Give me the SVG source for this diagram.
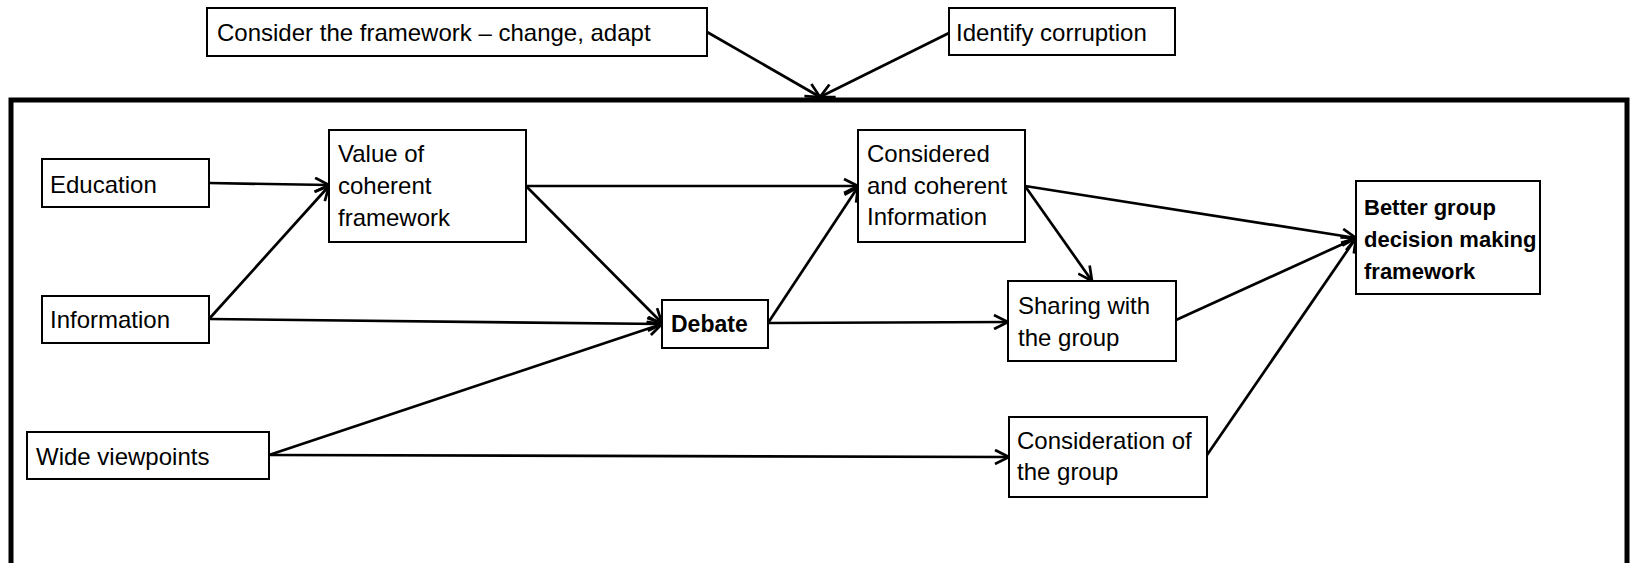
<svg xmlns="http://www.w3.org/2000/svg" width="1631" height="563" viewBox="0 0 1631 563">
<style>
.box{fill:#fff;stroke:#000;stroke-width:2}
.t{font-family:"Liberation Sans",Arial,sans-serif;font-size:24px;fill:#000}
.b{font-weight:bold;font-size:23px}
.bb{font-weight:bold;font-size:22px}
.c{fill:none;stroke:#000;stroke-width:2.7;marker-end:url(#ah)}
.frame{fill:none;stroke:#000;stroke-width:5}
</style>
<defs>
<marker id="ah" viewBox="0 0 16 16" refX="15" refY="8" markerWidth="16" markerHeight="16" markerUnits="userSpaceOnUse" orient="auto">
<path d="M1,1 L15,8 L1,15" fill="none" stroke="#000" stroke-width="2.7"/>
</marker>
</defs>
<rect class="frame" x="11" y="100" width="1616" height="520"/>
<g id="connectors">
<line class="c" x1="707" y1="32" x2="820" y2="97"/>
<line class="c" x1="949" y1="33" x2="820" y2="97"/>
<line class="c" x1="209" y1="183" x2="329" y2="185"/>
<line class="c" x1="209" y1="319" x2="329" y2="186"/>
<line class="c" x1="209" y1="319" x2="662" y2="324"/>
<line class="c" x1="526" y1="186" x2="858" y2="186"/>
<line class="c" x1="526" y1="186" x2="662" y2="323"/>
<line class="c" x1="269" y1="455" x2="662" y2="324"/>
<line class="c" x1="768" y1="323" x2="858" y2="187"/>
<line class="c" x1="768" y1="323" x2="1008" y2="322"/>
<line class="c" x1="1025" y1="186" x2="1356" y2="238"/>
<line class="c" x1="1025" y1="186" x2="1092" y2="281"/>
<line class="c" x1="1176" y1="320" x2="1356" y2="238"/>
<line class="c" x1="269" y1="455" x2="1009" y2="457"/>
<line class="c" x1="1207" y1="455" x2="1356" y2="238"/>
</g>
<g id="consider">
<rect class="box" x="207" y="8" width="500" height="48"/>
<text class="t" x="217" y="41">Consider the framework – change, adapt</text>
</g>
<g id="identify">
<rect class="box" x="949" y="8" width="226" height="47"/>
<text class="t" x="956" y="41">Identify corruption</text>
</g>
<g id="education">
<rect class="box" x="42" y="159" width="167" height="48"/>
<text class="t" x="50" y="193">Education</text>
</g>
<g id="information">
<rect class="box" x="42" y="296" width="167" height="47"/>
<text class="t" x="50" y="328">Information</text>
</g>
<g id="wide">
<rect class="box" x="27" y="432" width="242" height="47"/>
<text class="t" x="36" y="465">Wide viewpoints</text>
</g>
<g id="value">
<rect class="box" x="329" y="130" width="197" height="112"/>
<text class="t" x="338" y="162">Value of</text>
<text class="t" x="338" y="194">coherent</text>
<text class="t" x="338" y="226">framework</text>
</g>
<g id="debate">
<rect class="box" x="662" y="300" width="106" height="48"/>
<text class="t b" x="671" y="332">Debate</text>
</g>
<g id="considered">
<rect class="box" x="858" y="130" width="167" height="112"/>
<text class="t" x="867" y="162">Considered</text>
<text class="t" x="867" y="194">and coherent</text>
<text class="t" x="867" y="225">Information</text>
</g>
<g id="sharing">
<rect class="box" x="1008" y="281" width="168" height="80"/>
<text class="t" x="1018" y="314">Sharing with</text>
<text class="t" x="1018" y="346">the group</text>
</g>
<g id="consideration">
<rect class="box" x="1009" y="417" width="198" height="80"/>
<text class="t" x="1017" y="449">Consideration of</text>
<text class="t" x="1017" y="480">the group</text>
</g>
<g id="better">
<rect class="box" x="1356" y="181" width="184" height="113"/>
<text class="t bb" x="1364" y="215">Better group</text>
<text class="t bb" x="1364" y="247">decision making</text>
<text class="t bb" x="1364" y="279">framework</text>
</g>
</svg>
